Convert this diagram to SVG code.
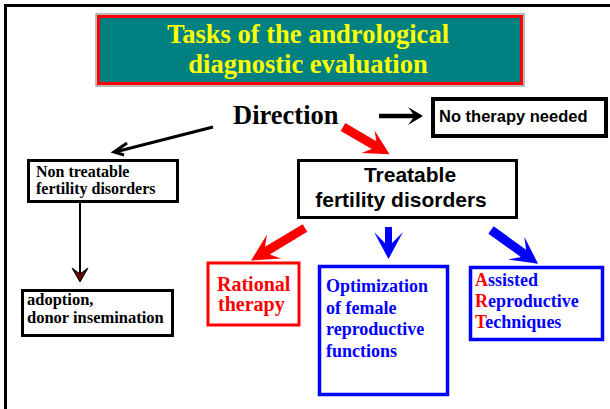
<svg xmlns="http://www.w3.org/2000/svg" width="610" height="409" viewBox="0 0 610 409">
<style>
.serif{font-family:"Liberation Serif","Times New Roman",serif;font-weight:bold}
.sans{font-family:"Liberation Sans",Arial,sans-serif;font-weight:bold}
.box{fill:#fff;stroke:#000;stroke-width:3}
.red{fill:#f00}
.blue{fill:#00f}
.blk{fill:#000}
</style>
<rect width="610" height="409" fill="#fff"/>
<path d="M5.5,409 V5.5 H610" fill="none" stroke="#000" stroke-width="3"/>

<g id="title">
<rect x="96" y="14" width="428" height="72" fill="none" stroke="#777" stroke-width="1"/>
<rect x="98.5" y="16.5" width="423" height="67" fill="#008080" stroke="#f00" stroke-width="3"/>
<text class="serif" x="308" y="43" font-size="26.5" fill="#ff0" text-anchor="middle">Tasks of the andrological</text>
<text class="serif" x="308" y="73" font-size="26.5" fill="#ff0" text-anchor="middle">diagnostic evaluation</text>
</g>

<g id="direction">
<text class="serif" x="233" y="124" font-size="26.5" fill="#000">Direction</text>
</g>

<g id="no-therapy">
<rect x="433" y="99" width="173" height="37" fill="#fff" stroke="#000" stroke-width="4"/>
<text class="sans" x="439" y="122" font-size="16.5" fill="#000">No therapy needed</text>
</g>

<g id="non-treatable">
<rect class="box" x="28.5" y="160.5" width="149" height="41"/>
<text class="serif" x="36" y="176.5" font-size="16" fill="#000">Non treatable</text>
<text class="serif" x="36" y="193.5" font-size="16" fill="#000">fertility disorders</text>
</g>

<g id="treatable">
<rect class="box" x="298.5" y="160.5" width="218" height="57"/>
<text class="sans" x="410" y="182" font-size="21" fill="#000" text-anchor="middle">Treatable</text>
<text class="sans" x="401" y="207" font-size="21" fill="#000" text-anchor="middle">fertility disorders</text>
</g>

<g id="adoption">
<rect class="box" x="22.5" y="290.5" width="150" height="45"/>
<text class="serif" x="27" y="305" font-size="16.5" fill="#000">adoption,</text>
<text class="serif" x="27" y="323" font-size="16.5" fill="#000">donor insemination</text>
</g>

<g id="rational">
<rect x="208" y="263" width="91" height="62" fill="#fff" stroke="#f00" stroke-width="3"/>
<text class="serif" x="217" y="291" font-size="20" fill="#f00">Rational</text>
<text class="serif" x="218" y="311" font-size="20" fill="#f00">therapy</text>
</g>

<g id="optimization">
<rect x="319.5" y="266.5" width="128" height="128" fill="#fff" stroke="#00f" stroke-width="3.5"/>
<text class="serif" x="326" y="292" font-size="18" fill="#00f">Optimization</text>
<text class="serif" x="326" y="313.5" font-size="18" fill="#00f">of female</text>
<text class="serif" x="326" y="335" font-size="18" fill="#00f">reproductive</text>
<text class="serif" x="326" y="356.5" font-size="18" fill="#00f">functions</text>
</g>

<g id="art">
<rect x="470.5" y="267.5" width="132" height="72" fill="#fff" stroke="#00f" stroke-width="3.5"/>
<text class="serif" x="475" y="286" font-size="18" fill="#00f"><tspan fill="#f00">A</tspan>ssisted</text>
<text class="serif" x="475" y="307" font-size="18" fill="#00f"><tspan fill="#f00">R</tspan>eproductive</text>
<text class="serif" x="475" y="328" font-size="18" fill="#00f"><tspan fill="#f00">T</tspan>echniques</text>
</g>

<g id="connectors">
<!-- Direction to Non treatable -->
<path d="M213,127 L115,152" stroke="#000" stroke-width="3" fill="none"/>
<path d="M127,143 L114,152 L124,155" stroke="#000" stroke-width="3" fill="none" stroke-linejoin="miter"/>
<!-- Non treatable to adoption -->
<path d="M80,203 V276" stroke="#000" stroke-width="2" fill="none"/>
<polygon points="80,282 72,268 80,274 88,268" fill="#600" stroke="#000" stroke-width="1"/>
<!-- Direction to No therapy -->
<polygon class="blk" transform="translate(379,116)" points="0,-2.3 34,-2.3 29,-9 44,0 29,9 34,2.3 0,2.3"/>
<!-- Direction to Treatable -->
<polygon class="red" transform="translate(343,127) rotate(30.4)" points="0,-4.5 36,-4.5 29,-13 54,0 29,13 36,4.5 0,4.5"/>
<!-- Treatable to Rational -->
<polygon class="red" transform="translate(305,228) rotate(148.9)" points="0,-4.5 44,-4.5 36,-14 63,0 36,14 44,4.5 0,4.5"/>
<!-- Treatable to Optimization -->
<polygon class="blue" transform="translate(388.5,227) rotate(90)" points="0,-3.5 16,-3.5 5,-14.5 32,0 5,14.5 16,3.5 0,3.5"/>
<!-- Treatable to ART -->
<polygon class="blue" transform="translate(491,230) rotate(35.7)" points="0,-4.5 40,-4.5 31,-14 58,0 31,14 40,4.5 0,4.5"/>
</g>
</svg>
